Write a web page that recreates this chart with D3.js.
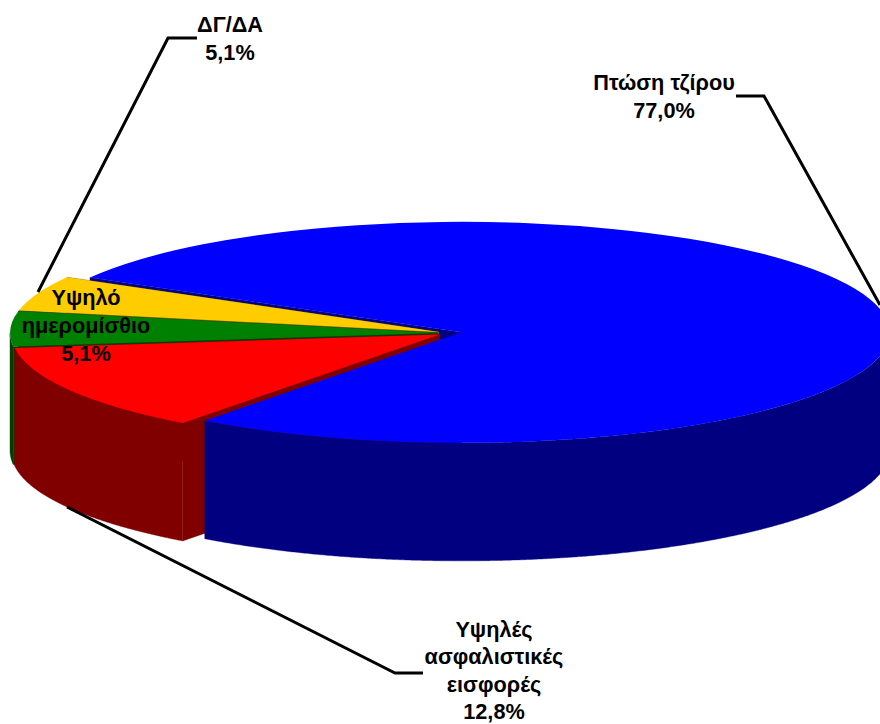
<!DOCTYPE html>
<html>
<head>
<meta charset="utf-8">
<script src="https://cdnjs.cloudflare.com/ajax/libs/d3/7.8.5/d3.min.js"></script>
<style>
    html, body { margin: 0; padding: 0; background: #fff; overflow: hidden; }
    text { font-family: "Liberation Sans", Arial, sans-serif; font-weight: bold; font-size: 21.7px; fill: #000; text-anchor: middle; }
</style>
</head>
<body>
<div id="chart"></div>
<script>
//Datos
const categories = ['Πτώση τζίρου', 'Υψηλές ασφαλιστικές εισφορές', 'Υψηλό ημερομίσθιο', 'ΔΓ/ΔΑ'];
const values = [77.0, 12.8, 5.1, 5.1];
const labelLines = [['Πτώση τζίρου'], ['Υψηλές', 'ασφαλιστικές', 'εισφορές'], ['Υψηλό', 'ημερομίσθιο'], ['ΔΓ/ΔΑ']];

//Colores fijos
const COLOR_TOP = ['#0000FF', '#FF0000', '#008000', '#FFCC00'],
COLOR_SIDE = ['#000080', '#800000', '#004000', '#806600'];

//Medidas del pastel
const width = 880, height = 724;
const rx = 428, ry = 110.5, depth = 118, explode = 12;
const center = {x: 450, y: 333};
const startDeg = 299.7;

let svg = d3.select('#chart').append('svg')
    .attr('width', width)
    .attr('height', height);

let pie = d3.pie()
    .sort(null)
    .startAngle(startDeg * Math.PI / 180)
    .endAngle(startDeg * Math.PI / 180 + 2 * Math.PI);

let arc = d3.arc().innerRadius(0).outerRadius(rx);
let line = d3.line();

//Cada porción se separa del centro en su ángulo medio
let slices = pie(values).map(function(d, i) {
    let mid = (d.startAngle + d.endAngle) / 2;
    return {
        index: i,
        a0: d.startAngle,
        a1: d.endAngle,
        arc: d,
        cx: center.x + explode * Math.sin(mid),
        cy: center.y - explode * (ry / rx) * Math.cos(mid)
    };
});

function edgePoint(s, a, dy) {
    return [s.cx + rx * Math.sin(a), s.cy - ry * Math.cos(a) + dy];
}

//Pared radial
function drawRadial(g, s, a) {
    g.append('path')
        .attr('d', line([[s.cx, s.cy], edgePoint(s, a, 0), edgePoint(s, a, depth), [s.cx, s.cy + depth]]) + 'Z')
        .attr('fill', COLOR_SIDE[s.index])
        .attr('stroke', COLOR_SIDE[s.index])
        .attr('stroke-width', 0.4);
}

//Pared exterior, solo la parte que mira hacia delante
function drawOuter(g, s) {
    let angles = d3.range(s.a0, s.a1, 0.005).concat([s.a1]).filter(function(a) { return Math.cos(a) <= 0; });
    if (angles.length < 2) return;
    let upper = angles.map(function(a) { return edgePoint(s, a, 0); });
    let lower = angles.slice().reverse().map(function(a) { return edgePoint(s, a, depth); });
    g.append('path')
        .attr('d', line(upper.concat(lower)) + 'Z')
        .attr('fill', COLOR_SIDE[s.index])
        .attr('stroke', COLOR_SIDE[s.index])
        .attr('stroke-width', 0.4);
}

function drawTop(g, s) {
    g.append('path')
        .attr('transform', 'translate(' + s.cx + ',' + s.cy + ') scale(1,' + (ry / rx) + ')')
        .attr('d', arc(s.arc))
        .attr('fill', COLOR_TOP[s.index]);
}

//Líneas guía por detrás del pastel
let leaders = svg.append('g')
    .attr('fill', 'none')
    .attr('stroke', '#000')
    .attr('stroke-width', 3);

leaders.append('path').attr('d', line([[197, 38], [168, 38], [38, 292]]));
leaders.append('path').attr('d', line([[736, 96], [764, 96], [880, 305]]));

//De atrás hacia delante: amarillo, verde, rojo y por último azul
let chart = svg.append('g');
drawRadial(chart, slices[0], slices[0].a0);

[3, 2, 1].forEach(function(i) {
    let s = slices[i];
    drawRadial(chart, s, s.a0);
    drawRadial(chart, s, s.a1);
    drawOuter(chart, s);
    drawTop(chart, s);
});

//Junta tenue en la pared roja
chart.append('path')
    .attr('d', line([edgePoint(slices[1], slices[1].a0, depth * 0.32), edgePoint(slices[1], slices[1].a0, depth)]))
    .attr('stroke', '#951c1c')
    .attr('stroke-width', 0.8)
    .attr('fill', 'none');

drawOuter(chart, slices[0]);
drawTop(chart, slices[0]);

leaders.raise();
leaders.append('path').attr('d', line([[67, 507], [395, 673], [423, 673]]));

//Etiquetas
const labelX = [664, 494, 86, 230];
const labelY = [89.5, 637, 305, 32];
const lineGaps = [28, 27.4, 28, 28];

slices.forEach(function(s) {
    let i = s.index;
    let text = labelLines[i].concat([d3.format('.1f')(values[i]).replace('.', ',') + '%']);
    svg.append('g')
        .selectAll('text')
        .data(text)
        .enter()
        .append('text')
        .attr('x', labelX[i])
        .attr('y', function(d, j) { return labelY[i] + j * lineGaps[i]; })
        .text(function(d) { return d; });
});
</script>
</body>
</html>
